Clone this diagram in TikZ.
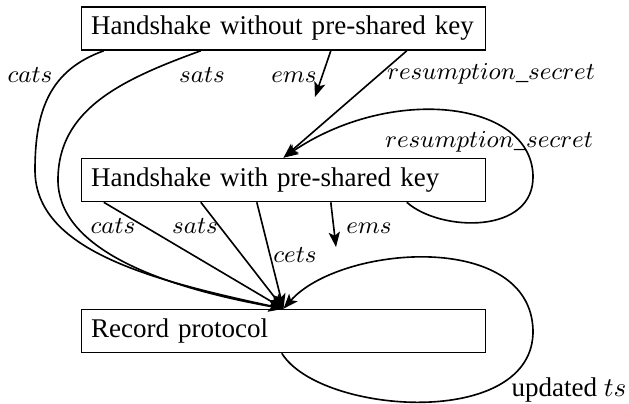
\documentclass[tikz,border=0pt]{standalone}
\usepackage{fontspec}
\setmainfont{Liberation Serif}
\usetikzlibrary{arrows.meta,calc}
\begin{document}
\begin{tikzpicture}[x=0.37pt,y=-0.37pt,
  box/.style={draw,semithick,rectangle,text width=142.4pt,align=left,minimum height=15.9pt,inner xsep=3.5pt},
  conn/.style={semithick,-{Stealth[length=5.5pt,width=4.2pt,inset=1.3pt]}},
  lbl/.style={anchor=base,inner sep=0pt,font=\fontsize{9}{11}\selectfont}]
\useasboundingbox (0,0) rectangle (629,404);
\node[box] (b1) at (283.5,28.5) {Handshake without pre-shared key};
\node[box] (b2) at (283.5,180) {Handshake with pre-shared key};
\node[box] (b3) at (283.5,331) {Record protocol};
% departure points
\coordinate (a1) at ($(b1.south west)+(23,0)$);
\coordinate (a2) at ($(b1.south west)+(120,0)$);
\coordinate (a3) at ($(b1.south west)+(250,0)$);
\coordinate (a4) at ($(b1.south west)+(326,0)$);
\coordinate (d1) at ($(b2.south west)+(23,0)$);
\coordinate (d2) at ($(b2.south west)+(120,0)$);
\coordinate (d3) at ($(b2.south west)+(176,0)$);
\coordinate (d4) at ($(b2.south west)+(250,0)$);
\coordinate (d5) at ($(b2.south west)+(326,0)$);
\coordinate (r1) at ($(b3.south west)+(201,0)$);
\coordinate (e1) at (315,97);
\coordinate (e2) at (336,247);
% from handshake without psk
\draw[conn] (a1) .. controls (50,70) and (35,110) .. (35,170) .. controls (35,250) and (150,280) .. (b3.north);
\draw[conn] (a2) .. controls (120,80) and (58,110) .. (58,180) .. controls (58,245) and (150,285) .. (b3.north);
\draw[conn] (a3) -- (e1);
\draw[conn] (a4) -- (b2.north);
\node[lbl] at (30,82) {$cats$};
\node[lbl] at (202,82) {$sats$};
\node[lbl] at (294,82) {$ems$};
\node[lbl] at (491,80) {$resumption\_secret$};
% resumption loop
\draw[conn] (d5) .. controls (440,232) and (535,235) .. (533,175) .. controls (530,100) and (390,85) .. (b2.north);
\node[lbl] at (489,148) {$resumption\_secret$};
% from handshake with psk
\draw[conn] (d1) -- (b3.north);
\draw[conn] (d2) -- (b3.north);
\draw[conn] (d3) -- (b3.north);
\draw[conn] (d4) -- (e2);
\node[lbl] at (113,233) {$cats$};
\node[lbl] at (195,233) {$sats$};
\node[lbl] at (295,263) {$cets$};
\node[lbl] at (369,233) {$ems$};
% updated ts loop
\draw[conn] (r1) .. controls (320,415) and (535,430) .. (533,330) .. controls (530,230) and (340,245) .. (b3.north);
\node[anchor=base,inner sep=0pt] at (569,396) {updated $ts$};
\end{tikzpicture}
\end{document}
